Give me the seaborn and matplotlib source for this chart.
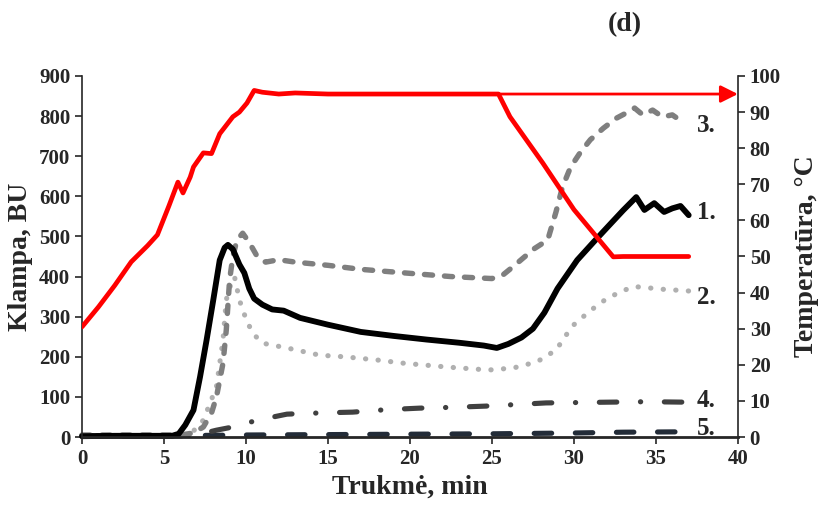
import numpy as np
import pandas as pd
import matplotlib
matplotlib.use("Agg")
import matplotlib.pyplot as plt
import seaborn as sns

# curve 1. (black, solid)
t1 = [0, 2, 4, 5.5, 5.9, 6.3, 6.8, 7.2, 7.6, 8.0, 8.4, 8.7, 8.9, 9.2, 9.6, 9.9, 10.2, 10.5,
      11.0, 11.6, 12.3, 13.3, 15, 17, 19, 21, 23, 24.5, 25.3, 26, 26.8, 27.5, 28.2, 29,
      30.2, 31.2, 32.2, 33.0, 33.8, 34.3, 34.9, 35.5, 36.0, 36.5, 37.0]
y1 = [2, 3, 3, 3, 8, 30, 67, 150, 242, 340, 441, 472, 479, 468, 430, 409, 370, 345,
      330, 318, 315, 297, 280, 262, 252, 243, 235, 228, 222, 232, 248, 270, 310, 370,
      441, 486, 530, 565, 598, 566, 583, 561, 570, 576, 553]

# curve 2. (light grey, dotted)
t2 = [0, 3, 6, 6.8, 7.4, 8.2, 8.6, 8.8, 9.0, 9.3, 9.6, 9.8, 10.1, 10.5, 11.0, 12.5, 14.5,
      16, 18, 19.6, 22.4, 24.8, 26.3, 27.7, 28.3, 29.0, 29.3, 30, 31, 32, 33, 33.7, 34.5,
      35.5, 36.3, 37]
y2 = [3, 3, 3, 15, 42, 125, 242, 342, 372, 400, 342, 317, 284, 255, 234, 222, 204,
      200, 192, 184, 174, 167, 172, 187, 200, 221, 242, 280, 315, 345, 365, 375, 372,
      368, 366, 364]

# curve 3. (grey, dashed)
t3 = [0, 3, 6, 6.8, 7.4, 7.9, 8.2, 8.6, 8.8, 9.0, 9.2, 9.45, 9.8, 10.2, 10.7, 11.2, 12, 13,
      15, 17, 20, 22.5, 25, 25.7, 26.3, 26.9, 27.6, 28.4, 28.9, 29.3, 29.8, 30.4, 31.0,
      31.8, 32.6, 33.2, 33.7, 34.2, 34.8, 35.4, 36.0, 36.6]
y3 = [5, 5, 5, 10, 25, 60, 100, 184, 267, 391, 450, 491, 508, 485, 449, 436, 442, 436,
      428, 418, 408, 400, 395, 405, 425, 446, 470, 491, 560, 623, 673, 710, 741,
      770, 795, 808, 820, 803, 815, 798, 803, 786]

# curve 4. (dark grey, dash-dot)
t4 = [0, 3, 6, 7, 7.5, 8.2, 9.2, 10.7, 12.5, 14.5, 16.5, 18.5, 20.6, 22.6, 24.6, 26.5,
      28.3, 30.4, 32.4, 34.5, 36.5, 37]
y4 = [3, 3, 3, 5, 10, 17, 25, 42, 57, 60, 62, 68, 72, 74, 77, 81, 85, 86, 87, 88, 87, 87]

# curve 5. (dark slate, long dashes)
t5 = [0, 5, 7.5, 10, 15, 20, 25, 30, 33, 37]
y5 = [2, 2, 4, 5, 6, 7, 8, 10, 12, 13]

# temperature, right axis
tT = [0, 1, 2, 3, 4, 4.6, 5.3, 5.85, 6.16, 6.6, 6.8, 7.4, 7.9, 8.4, 9.2, 9.6, 10.06, 10.5,
      11, 12, 13, 15, 18, 20, 22, 24, 25.4, 26.1, 28.1, 30, 32.4, 33, 35, 37]
T = [30.5, 36, 42, 48.5, 53, 56, 64, 70.6, 67.6, 72, 74.8, 78.7, 78.5, 84, 88.7, 90,
     92.5, 96, 95.5, 95, 95.3, 95, 95, 95, 95, 95, 95, 88.7, 75.9, 63, 49.9, 50, 50, 50]

curve_labels = ["1.", "2.", "3.", "4.", "5."]
label_y = [559, 349, 776, 92, 22]

sns.set_style("ticks")
plt.rcParams["font.family"] = ["Liberation Serif", "DejaVu Serif"]
plt.rcParams["font.weight"] = "bold"

fig = plt.figure(figsize=(8.24, 5.11), dpi=100)
ax = fig.add_axes([0.0995, 0.1448, 0.796, 0.7065])
ax2 = ax.twinx()

styles = [
    (t5, y5, "#232c38", (0, (3.4, 4.6)), 3.7),
    (t4, y4, "#404040", (0, (3.4, 4.6, 0.05, 4.6)), 3.7),
    (t2, y2, "#b0b0b0", (0, (0.05, 2.4)), 3.7),
    (t3, y3, "#7f7f7f", (0, (1.5, 2.2)), 3.9),
    (t1, y1, "black", "-", 4.2),
]
for tx, yv, col, ls, lw in styles:
    df = pd.DataFrame({"t": tx, "v": yv})
    sns.lineplot(data=df, x="t", y="v", ax=ax, color=col, linestyle=ls, lw=lw,
                 estimator=None, dash_capstyle="round", solid_capstyle="round", clip_on=False)

dfT = pd.DataFrame({"t": tT, "T": T})
sns.lineplot(data=dfT, x="t", y="T", ax=ax2, color="red", lw=3.4, estimator=None,
             solid_capstyle="round")
ax2.annotate("", xy=(40, 95), xytext=(25.4, 95),
             arrowprops=dict(arrowstyle="-|>", color="red", lw=2.0, mutation_scale=26,
                             shrinkA=0, shrinkB=0), annotation_clip=False)

ax.set_xlim(0, 40)
ax.set_ylim(0, 900)
ax2.set_ylim(0, 100)
ax.set_xticks(range(0, 41, 5))
ax.set_yticks(range(0, 901, 100))
ax2.set_yticks(range(0, 101, 10))

for a in (ax, ax2):
    a.spines["top"].set_visible(False)
    a.tick_params(labelsize=15, width=1.2, length=5, direction="out")
    for lab in a.get_xticklabels() + a.get_yticklabels():
        lab.set_fontweight("bold")
ax.spines["right"].set_visible(False)
ax2.spines["left"].set_visible(False)
ax2.spines["bottom"].set_visible(False)
ax.spines["bottom"].set_linewidth(2.0)
ax.spines["left"].set_linewidth(1.2)
ax2.spines["right"].set_linewidth(1.2)

ax.set_xlabel("Trukmė, min", fontsize=20, fontweight="bold")
ax.set_ylabel("Klampa, BU", fontsize=20, fontweight="bold")
ax2.set_ylabel("Temperatūra, °C", fontsize=20, fontweight="bold", rotation=90)
ax.xaxis.set_label_coords(0.5, -0.14)
ax.yaxis.set_label_coords(-0.094, 0.5)
ax2.yaxis.set_label_coords(1.105, 0.5)
ax.xaxis.label.set_va("center")
ax.yaxis.label.set_va("center")
ax2.yaxis.label.set_va("center")

for lab, yy in zip(curve_labels, label_y):
    ax.text(37.5, yy, lab, fontsize=18, fontweight="bold", va="center", ha="left")

fig.text(0.758, 0.951, "(d)", fontsize=20, fontweight="bold", ha="center", va="center")

fig.savefig("out.png", dpi=100)
